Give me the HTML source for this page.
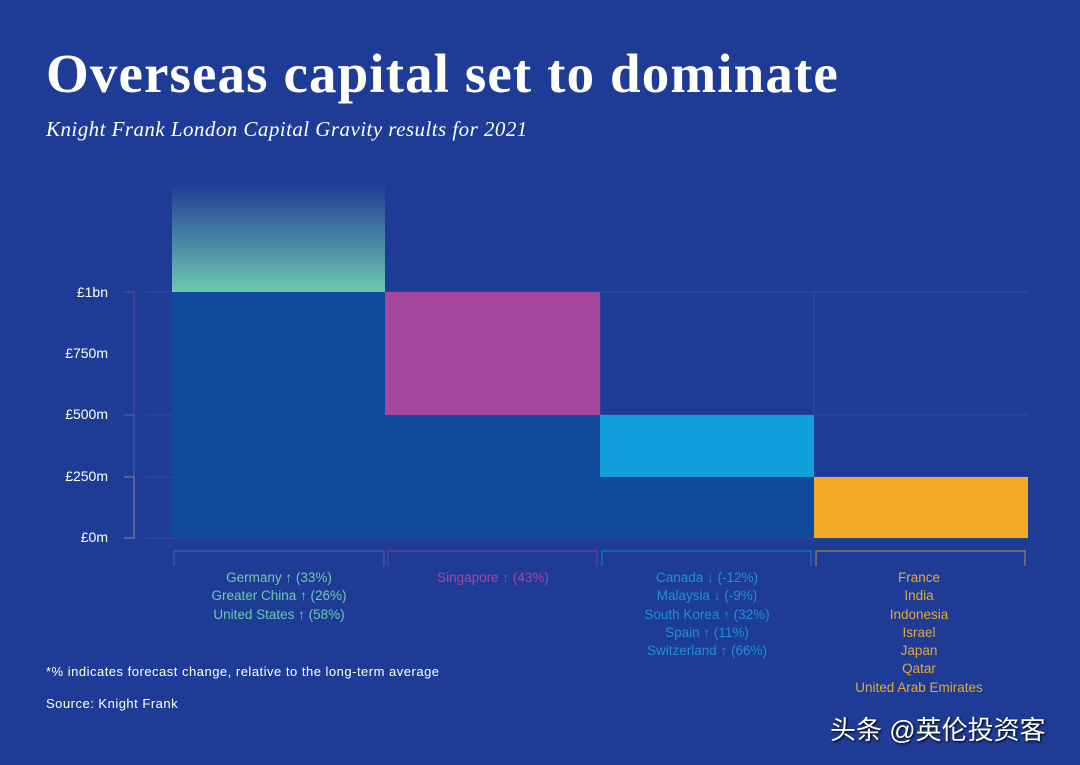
<!DOCTYPE html>
<html><head><meta charset="utf-8"><style>
body{margin:0;width:1080px;height:765px;background:#1e3b95;overflow:hidden;position:relative;font-family:"Liberation Sans",sans-serif}
.a{position:absolute}
.t{left:46px;top:42px;font-family:"Liberation Serif",serif;font-weight:bold;font-size:55px;color:#fff;letter-spacing:1.1px;white-space:nowrap}
.s{left:46px;top:117px;font-family:"Liberation Serif",serif;font-style:italic;font-size:21px;color:#fff;letter-spacing:0.45px;white-space:nowrap}
.yl{width:62px;left:46px;text-align:right;color:#fff;font-size:14px}
.c{text-align:center;font-size:13.5px;line-height:18.3px;width:214px}
.n{color:#fff;font-size:13px;letter-spacing:0.5px;white-space:nowrap}
</style></head><body>
<div class="a t">Overseas capital set to dominate</div>
<div class="a s">Knight Frank London Capital Gravity results for 2021</div>
<svg class="a" style="left:0;top:0" width="1080" height="765">
<defs><linearGradient id="g" x1="0" y1="0" x2="0" y2="1"><stop offset="0" stop-color="#1e3b95"/><stop offset="1" stop-color="#6cc9b0"/></linearGradient></defs>
<g stroke="#2c4ea3" stroke-width="1">
<line x1="145" y1="292" x2="1028" y2="292"/><line x1="145" y1="415" x2="1028" y2="415"/><line x1="145" y1="477" x2="1028" y2="477"/><line x1="145" y1="538" x2="1028" y2="538"/>
<line x1="814" y1="292" x2="814" y2="538"/><line x1="600" y1="292" x2="600" y2="538"/>
</g>
<rect x="172" y="183" width="213" height="109" fill="url(#g)"/>
<rect x="172" y="292" width="213" height="246" fill="#0f4a9c"/>
<rect x="385" y="292" width="215" height="123" fill="#a5479d"/>
<rect x="385" y="415" width="215" height="123" fill="#0f4a9c"/>
<rect x="600" y="415" width="214" height="62" fill="#12a0dc"/>
<rect x="600" y="477" width="214" height="61" fill="#0f4a9c"/>
<rect x="814" y="477" width="214" height="61" fill="#f2a928"/>
<g fill="none" stroke-width="1">
<path d="M124 292H134V415H124" stroke="#7a3f8f"/>
<path d="M124 415H134V477" stroke="#2a72c4"/>
<path d="M124 477H134V538H124" stroke="#8a8a80"/>
<path d="M174 566V551H384V566" stroke="#3e6cad"/>
<path d="M388 566V551H597V566" stroke="#7a3f8f"/>
<path d="M602 566V551H811V566" stroke="#1f7ccc"/>
<path d="M816 566V551H1025V566" stroke="#b59340"/>
</g>
</svg>
<div class="a yl" style="top:284px">£1bn</div>
<div class="a yl" style="top:345px">£750m</div>
<div class="a yl" style="top:406px">£500m</div>
<div class="a yl" style="top:468px">£250m</div>
<div class="a yl" style="top:529px">£0m</div>
<div class="a c" style="left:172px;top:569px;color:#6cc9b0">Germany ↑ (33%)<br>Greater China ↑ (26%)<br>United States ↑ (58%)</div>
<div class="a c" style="left:386px;top:569px;color:#a5479d">Singapore ↑ (43%)</div>
<div class="a c" style="left:600px;top:569px;color:#1f8fd8">Canada ↓ (-12%)<br>Malaysia ↓ (-9%)<br>South Korea ↑ (32%)<br>Spain ↑ (11%)<br>Switzerland ↑ (66%)</div>
<div class="a c" style="left:812px;top:569px;color:#e3a838">France<br>India<br>Indonesia<br>Israel<br>Japan<br>Qatar<br>United Arab Emirates</div>
<div class="a n" style="left:46px;top:664px">*% indicates forecast change, relative to the long-term average</div>
<div class="a n" style="left:46px;top:696px">Source: Knight Frank</div>
<div class="a" style="left:830px;top:710px;font-family:'Liberation Sans','Noto Sans CJK SC',sans-serif;font-size:26px;color:#fff;text-shadow:1px 1px 2px #000;white-space:nowrap">头条 @英伦投资客</div>
</body></html>
